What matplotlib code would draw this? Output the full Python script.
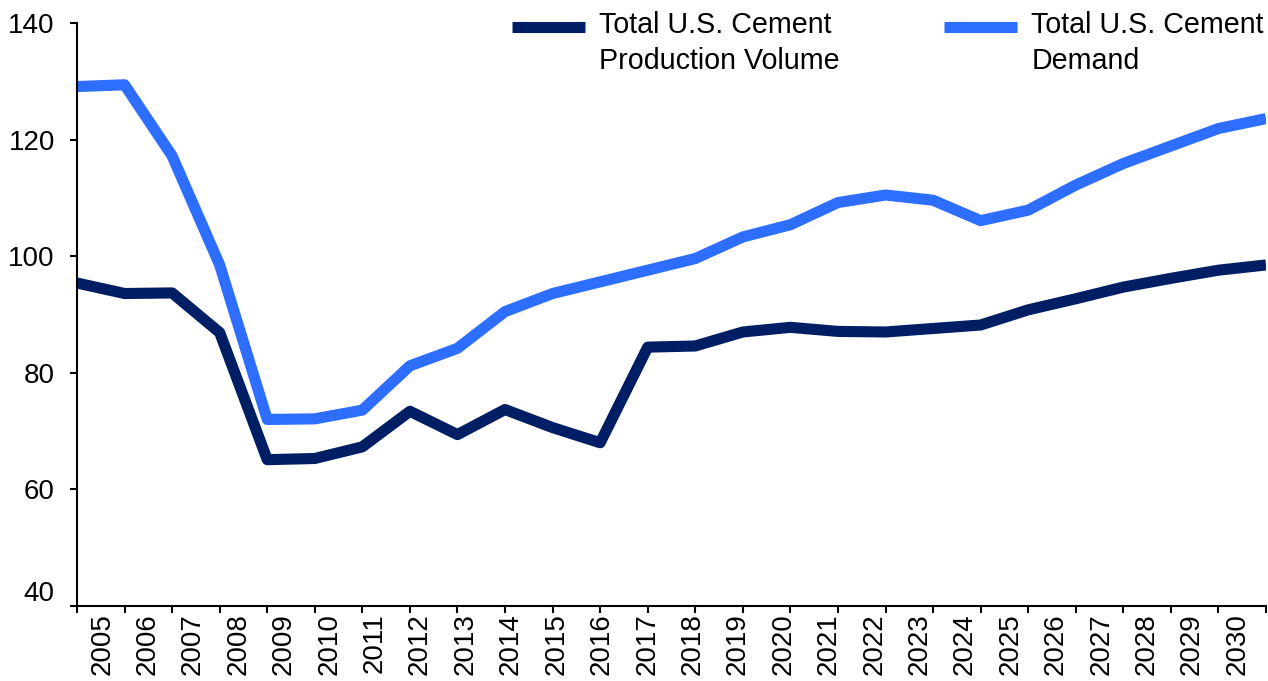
import numpy as np
import matplotlib
matplotlib.use("Agg")
import matplotlib.pyplot as plt
import matplotlib.transforms as mtransforms
from matplotlib.legend_handler import HandlerLine2D

# Dados (leitura do gráfico)
years = [str(y) for y in range(2005, 2031)]
production = [95.4, 93.6, 93.7, 86.9, 65.1, 65.3, 67.3, 73.4, 69.4, 73.7,
              70.6, 68.0, 84.4, 84.6, 87.0, 87.8, 87.1, 87.0, 87.6, 88.2,
              90.8, 92.7, 94.7, 96.2, 97.6, 98.5]
demand = [129.1, 129.4, 117.2, 98.5, 72.0, 72.1, 73.6, 81.2, 84.2, 90.5,
          93.6, 95.6, 97.6, 99.6, 103.3, 105.4, 109.2, 110.5, 109.6, 106.1,
          107.9, 112.2, 115.9, 118.9, 121.9, 123.6]
labels = ["Total U.S. Cement\nProduction Volume", "Total U.S. Cement\nDemand"]

DARK = "#001e64"
LIGHT = "#2d6eff"
FS = 20

plt.rcParams['font.family'] = ['Liberation Sans', 'DejaVu Sans']


class TopLineHandler(HandlerLine2D):
    # desloca a linha da legenda para a primeira linha do texto
    def create_artists(self, legend, orig_handle, xdescent, ydescent,
                       width, height, fontsize, trans):
        artists = super().create_artists(legend, orig_handle, xdescent, ydescent,
                                         width, height, fontsize, trans)
        for a in artists:
            a.set_ydata(np.asarray(a.get_ydata()) + 0.62 * fontsize)
        return artists


fig = plt.figure(figsize=(12.68, 6.81), dpi=100)
ax = fig.add_axes([77 / 1268, 1 - 606 / 681, (1266 - 77) / 1268, (606 - 23) / 681])

x = np.arange(len(years))
l1, = ax.plot(x, production, color=DARK, lw=8, solid_joinstyle='round',
              solid_capstyle='butt', label=labels[0])
l2, = ax.plot(x, demand, color=LIGHT, lw=8, solid_joinstyle='round',
              solid_capstyle='butt', label=labels[1])

ax.set_xlim(0, len(years) - 1)
ax.set_ylim(40, 140)
ax.set_yticks([40, 60, 80, 100, 120, 140])
ax.tick_params(axis='y', labelsize=FS, length=5, width=1.5, pad=11, direction='out')

# marcas de tick nos pontos, rótulos entre eles
ax.set_xticks(x, minor=True)
ax.set_xticks(np.linspace(0.53, len(years) - 1 - 0.6, len(years)))
ax.set_xticklabels(years, rotation=90)
ax.tick_params(axis='x', which='major', length=0, labelsize=FS, pad=5)
ax.tick_params(axis='x', which='minor', length=5, width=1.5, direction='out')

for s in ['top', 'right']:
    ax.spines[s].set_visible(False)
for s in ['left', 'bottom']:
    ax.spines[s].set_linewidth(1.5)

# o rótulo "40" fica acima do eixo x
lab40 = ax.get_yticklabels()[0]
lab40.set_transform(lab40.get_transform() +
                    mtransforms.ScaledTranslation(0, 0.15, fig.dpi_scale_trans))

leg = fig.legend(handles=[l1, l2], loc='upper right', ncol=2,
                 bbox_to_anchor=(1278 / 1268, 1 + 3 / 681), frameon=False,
                 fontsize=20.6, borderpad=0, handlelength=2.55, handletextpad=0.5,
                 columnspacing=3.65,
                 handler_map={matplotlib.lines.Line2D: TopLineHandler()})
for t in leg.get_texts():
    t.set_linespacing(1.37)

fig.savefig("out.png", dpi=100)
